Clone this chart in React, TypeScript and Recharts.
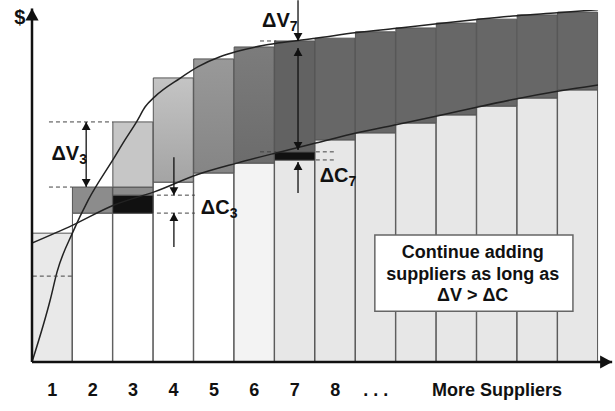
import React from 'react';
import {
  ComposedChart, Bar, Line, XAxis, YAxis, Cell, ReferenceLine, ReferenceDot, ReferenceArea,
} from 'recharts';

const suppliers = [1, 2, 3, 4, 5, 6, 7, 8, 9, 10, 11, 12, 13, 14];
const tickLabels = ['1', '2', '3', '4', '5', '6', '7', '8', '. . .', '', '', 'More Suppliers', '', ''];

// stacked pieces of each column, in $
const baseCost = [36.6, 42.3, 42.3, 51.1, 53.7, 56.5, 57.4, 63.1, 65.1, 67.9, 70.2, 72.7, 75.0, 77.3];
const addedCost = [0, 0, 5.1, 0, 0, 0, 2.3, 0, 0, 0, 0, 0, 0, 0];
const netValue = [0, 7.4, 2.3, 29.6, 32.4, 33.0, 31.5, 28.9, 28.7, 27.0, 26.1, 24.7, 23.6, 22.1];
const addedValue = [0, 0, 18.5, 0, 0, 0, 0, 0, 0, 0, 0, 0, 0, 0];

// value and cost curves
const valueX = [0, 0.45, 0.62, 1.01, 1.39, 2.03, 2.3, 2.59, 2.8, 3.04, 3.66, 4.11, 4.65, 5.06, 5.71, 6.08, 7.02, 8.04, 9.03, 10.02, 11, 12, 13, 14];
const valueY = [0, 17.6, 25.6, 36.9, 46, 58, 63.1, 68.3, 72.5, 75.4, 80.6, 83.9, 86.7, 88.2, 89.9, 90.6, 92.0, 93.6, 94.8, 96.1, 97.3, 98.4, 99.2, 100.1];
const costX = [0, 1.01, 2.03, 3.04, 4.08, 5.07, 6.04, 7.02, 8.04, 9.03, 10.02, 11, 12, 13, 14];
const costY = [33.8, 38.9, 44.6, 48.4, 53.2, 56.5, 59.4, 62.2, 65.1, 67.5, 69.9, 72.4, 74.8, 76.9, 78.7];

const baseFill = ['#e9e9e9', '#ffffff', '#ffffff', '#ffffff', '#ffffff', '#f3f3f3', '#e7e7e7', '#e7e7e7', '#e7e7e7', '#e7e7e7', '#e7e7e7', '#e7e7e7', '#e7e7e7', '#e7e7e7'];
const netFill = ['#8c8c8c', '#8c8c8c', '#8c8c8c', 'url(#g4)', 'url(#g5)', 'url(#g6)', '#626262', '#676767', '#676767', '#676767', '#676767', '#676767', '#676767', '#676767'];

const data = suppliers.map((s, i) => ({
  s,
  baseCost: baseCost[i],
  addedCost: addedCost[i],
  netValue: netValue[i],
  addedValue: addedValue[i],
}));
const valueCurve = valueX.map((x, i) => ({ x, y: valueY[i] }));
const costCurve = costX.map((x, i) => ({ x, y: costY[i] }));

const FONT = '"Liberation Sans", Arial, sans-serif';

const arrow = (startHead: boolean, endHead: boolean, width = 1.3, size = 8) => (p: any) => {
  const { x1, y1, x2, y2 } = p;
  const a = Math.atan2(y2 - y1, x2 - x1);
  const head = (x: number, y: number, ang: number) => {
    const bx = x - Math.cos(ang) * size;
    const by = y - Math.sin(ang) * size;
    const w = size * 0.55;
    const pts = [
      [x, y],
      [bx + Math.sin(ang) * w, by - Math.cos(ang) * w],
      [bx - Math.sin(ang) * w, by + Math.cos(ang) * w],
    ].map((q) => q.join(',')).join(' ');
    return <polygon points={pts} fill="#111" />;
  };
  return (
    <g>
      <line x1={x1} y1={y1} x2={x2} y2={y2} stroke="#111" strokeWidth={width} />
      {startHead && head(x1, y1, a + Math.PI)}
      {endHead && head(x2, y2, a)}
    </g>
  );
};

const deltaLabel = (main: string, sub: string) => (p: any) => (
  <text x={p.cx} y={p.cy} textAnchor="middle" dominantBaseline="central"
    fontFamily={FONT} fontWeight="bold" fontSize={20} fill="#111">
    {main}
    <tspan fontSize={14} dy={6}>{sub}</tspan>
  </text>
);

const plainLabel = (txt: string, size: number) => (p: any) => (
  <text x={p.cx} y={p.cy} textAnchor="middle" dominantBaseline="central"
    fontFamily={FONT} fontWeight="bold" fontSize={size} fill="#111">
    {txt}
  </text>
);

const SupplierTick = (p: any) => (
  <text x={p.x} y={p.y} dy={26} textAnchor="middle" fontFamily={FONT}
    fontWeight="bold" fontSize={18} fill="#111">
    {tickLabels[p.payload.index]}
  </text>
);

const dashed = (x1: number, x2: number, y: number, k: string) => (
  <ReferenceLine key={k} xAxisId="num" ifOverflow="visible"
    segment={[{ x: x1, y }, { x: x2, y }]}
    stroke="#444" strokeWidth={1} strokeDasharray="4 3" />
);

const arrowLine = (x: number, ya: number, yb: number, s: boolean, e: boolean, k: string) => (
  <ReferenceLine key={k} xAxisId="num" ifOverflow="visible"
    segment={[{ x, y: ya }, { x, y: yb }]} shape={arrow(s, e)} />
);

export default function App() {
  return (
    <div style={{ position: 'absolute', left: 0, top: 0, background: '#fff' }}>
      <ComposedChart width={615} height={411} data={data}
        margin={{ top: 10, right: 17, bottom: 0, left: 32 }}
        barCategoryGap={0} barGap={0}>
        <defs>
          <linearGradient id="g4" x1="0" y1="0" x2="0" y2="1">
            <stop offset="0%" stopColor="#c4c4c4" />
            <stop offset="100%" stopColor="#a4a4a4" />
          </linearGradient>
          <linearGradient id="g5" x1="0" y1="0" x2="0" y2="1">
            <stop offset="0%" stopColor="#999999" />
            <stop offset="100%" stopColor="#858585" />
          </linearGradient>
          <linearGradient id="g6" x1="0" y1="0" x2="0" y2="1">
            <stop offset="0%" stopColor="#7c7c7c" />
            <stop offset="100%" stopColor="#6c6c6c" />
          </linearGradient>
        </defs>
        <XAxis xAxisId="cat" dataKey="s" type="category" height={49}
          axisLine={false} tickLine={false} interval={0} tick={<SupplierTick />} />
        <XAxis xAxisId="num" dataKey="x" type="number" domain={[0, 14]} hide allowDataOverflow />
        <YAxis domain={[0, 100]} hide allowDataOverflow />

        <Bar xAxisId="cat" dataKey="baseCost" stackId="a" stroke="#555" strokeWidth={1} isAnimationActive={false}>
          {data.map((d, i) => <Cell key={i} fill={baseFill[i]} />)}
        </Bar>
        <Bar xAxisId="cat" dataKey="addedCost" stackId="a" fill="#111" stroke="#333" strokeWidth={1} isAnimationActive={false} />
        <Bar xAxisId="cat" dataKey="netValue" stackId="a" stroke="#555" strokeWidth={1} isAnimationActive={false}>
          {data.map((d, i) => <Cell key={i} fill={netFill[i]} />)}
        </Bar>
        <Bar xAxisId="cat" dataKey="addedValue" stackId="a" fill="#c6c6c6" stroke="#555" strokeWidth={1} isAnimationActive={false} />

        <Line xAxisId="num" data={valueCurve} dataKey="y" type="monotone" stroke="#222"
          strokeWidth={1.5} dot={false} isAnimationActive={false} />
        <Line xAxisId="num" data={costCurve} dataKey="y" type="monotone" stroke="#222"
          strokeWidth={1.5} dot={false} isAnimationActive={false} />

        {dashed(0.42, 2.0, 68.2, 'd1')}
        {dashed(0.42, 1.0, 49.7, 'd2')}
        {dashed(0.02, 1.0, 24.4, 'd3')}
        {dashed(3.09, 4.03, 47.4, 'd4')}
        {dashed(3.09, 4.03, 42.3, 'd5')}
        {dashed(5.64, 6.04, 91.2, 'd6')}
        {dashed(5.64, 6.04, 59.7, 'd7')}
        {dashed(7.02, 7.49, 59.7, 'd8')}
        {dashed(7.02, 7.49, 57.4, 'd9')}

        {arrowLine(1.34, 49.7, 68.2, true, true, 'a1')}
        {arrowLine(3.51, 58.2, 47.4, false, true, 'a2')}
        {arrowLine(3.51, 32.7, 42.3, false, true, 'a3')}
        {arrowLine(6.58, 102.8, 91.2, false, true, 'a4')}
        {arrowLine(6.58, 89.2, 60.2, true, true, 'a5')}
        {arrowLine(6.58, 48.0, 56.8, false, true, 'a6')}

        <ReferenceLine xAxisId="num" ifOverflow="visible" segment={[{ x: 0, y: 0 }, { x: 14.35, y: 0 }]}
          shape={arrow(false, true, 2.5, 12)} />
        <ReferenceLine xAxisId="num" ifOverflow="visible" segment={[{ x: 0, y: 0 }, { x: 0, y: 100.4 }]}
          shape={arrow(false, true, 2.5, 12)} />

        <ReferenceArea xAxisId="num" ifOverflow="visible" x1={8.48} x2={13.38} y1={14.4} y2={36.1}
          fill="#ffffff" fillOpacity={1} stroke="#666" strokeWidth={1.5} zIndex={450} />

        <ReferenceDot xAxisId="num" x={0.92} y={59.4} ifOverflow="visible" shape={deltaLabel('ΔV', '3')} zIndex={700} />
        <ReferenceDot xAxisId="num" x={4.63} y={44.0} ifOverflow="visible" shape={deltaLabel('ΔC', '3')} zIndex={700} />
        <ReferenceDot xAxisId="num" x={6.13} y={97.2} ifOverflow="visible" shape={deltaLabel('ΔV', '7')} zIndex={700} />
        <ReferenceDot xAxisId="num" x={7.57} y={53.1} ifOverflow="visible" shape={deltaLabel('ΔC', '7')} zIndex={700} />
        <ReferenceDot xAxisId="num" x={-0.3} y={98.0} ifOverflow="visible" shape={plainLabel('$', 20)} zIndex={700} />
        <ReferenceDot xAxisId="num" x={10.9} y={31.2} ifOverflow="visible" shape={plainLabel('Continue adding', 18)} zIndex={700} />
        <ReferenceDot xAxisId="num" x={10.9} y={25.1} ifOverflow="visible" shape={plainLabel('suppliers as long as', 18)} zIndex={700} />
        <ReferenceDot xAxisId="num" x={10.9} y={19.0} ifOverflow="visible" shape={plainLabel('ΔV > ΔC', 18)} zIndex={700} />
      </ComposedChart>
    </div>
  );
}
